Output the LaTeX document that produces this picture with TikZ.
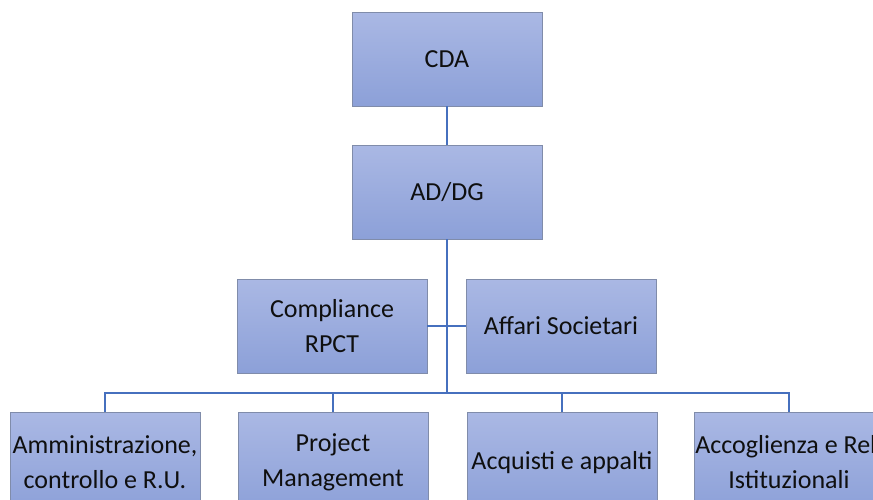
\documentclass[tikz,border=0pt]{standalone}
\usepackage{fontspec}
\setmainfont{Carlito}
\definecolor{boxtop}{RGB}{170,184,228}
\definecolor{boxbot}{RGB}{140,160,216}
\definecolor{boxline}{RGB}{128,140,170}
\definecolor{conn}{RGB}{70,112,190}
\definecolor{txt}{RGB}{15,15,15}
\begin{document}
\begin{tikzpicture}[x=1pt,y=-1pt,
  orgbox/.style={draw=boxline, line width=0.8pt, top color=boxtop, bottom color=boxbot,
    minimum width=190pt, minimum height=94pt, inner sep=0pt, align=center,
    text=txt, font=\fontsize{26}{35}\selectfont},
  link/.style={draw=conn, line width=2pt}]
\useasboundingbox (0,0) rectangle (873,499);
\clip (0,0) rectangle (873,499);
\fill[white] (0,0) rectangle (873,499);
\node[orgbox] (cda) at (447,59) {CDA};
\node[orgbox] (ad) at (447,192) {AD/DG};
\node[orgbox] (comp) at (332,326) {Compliance\\RPCT};
\node[orgbox] (aff) at (561,326) {Affari Societari};
\node[orgbox, minimum height=100pt, anchor=north] (amm) at (105,412) {Amministrazione,\\controllo e R.U.};
\node[orgbox, minimum height=100pt, anchor=north] (pm) at (333,412) {Project\\Management};
\node[orgbox, minimum height=100pt, anchor=north] (acq) at (562,412) {Acquisti e appalti};
\node[orgbox, minimum height=100pt, anchor=north] (acc) at (789,412) {Accoglienza e Rel.\\Istituzionali};
\coordinate (bus) at (447,393);
\draw[link] (cda.south) -- (ad.north);
\draw[link] (ad.south) -- (bus);
\draw[link] (comp.east) -- (aff.west);
\draw[link] (amm.north) |- (bus) -| (acc.north);
\draw[link] (pm.north) -- (pm.north |- bus);
\draw[link] (acq.north) -- (acq.north |- bus);
\end{tikzpicture}
\end{document}
